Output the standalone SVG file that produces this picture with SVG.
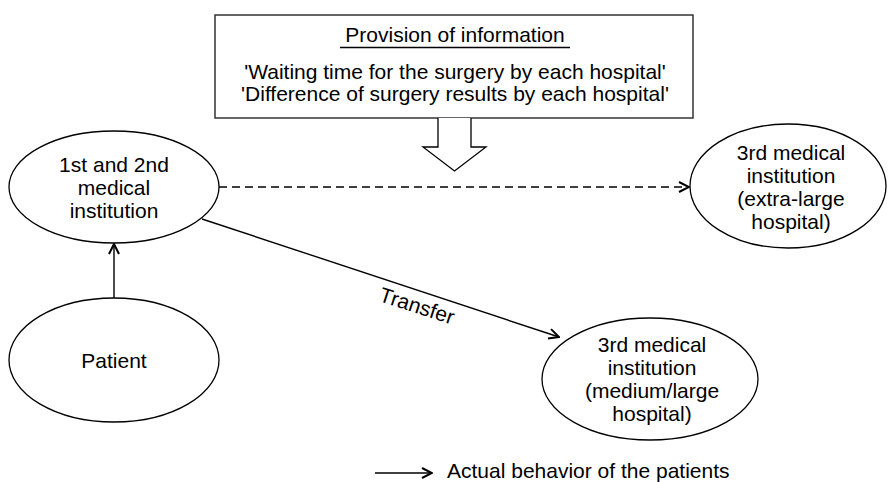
<svg xmlns="http://www.w3.org/2000/svg" width="889" height="482" viewBox="0 0 889 482">
<style>
text{font-family:"Liberation Sans",Arial,sans-serif;font-size:21px;fill:#000}
.c{text-anchor:middle}
.n{fill:#fff;stroke:#000;stroke-width:1.3}
.e{fill:none;stroke:#000;stroke-width:1.4}
</style>
<defs>
<marker id="ah" viewBox="0 0 12 12" refX="11" refY="6" markerWidth="12" markerHeight="12" markerUnits="userSpaceOnUse" orient="auto">
<path d="M1,1 L11,6 L1,11" fill="none" stroke="#000" stroke-width="2"/>
</marker>
</defs>
<rect width="889" height="482" fill="#fff"/>
<g id="info">
<rect x="215" y="15" width="478" height="103" fill="#fff" stroke="#333" stroke-width="1.5"/>
<text class="c" x="455" y="42">Provision of information</text>
<line x1="340" y1="47.5" x2="570" y2="47.5" stroke="#000" stroke-width="1.4"/>
<text class="c" x="455" y="79">'Waiting time for the surgery by each hospital'</text>
<text class="c" x="455" y="101">'Difference of surgery results by each hospital'</text>
<path class="n" d="M438,118 L438,147 L423,147 L454.5,171 L486,147 L471,147 L471,118"/>
</g>
<g id="n1">
<ellipse class="n" cx="114" cy="187" rx="105" ry="56"/>
<text class="c" x="114" y="171.5">1st and 2nd</text>
<text class="c" x="114" y="194.5">medical</text>
<text class="c" x="114" y="217.5">institution</text>
</g>
<g id="patient">
<ellipse class="n" cx="114" cy="360" rx="105" ry="62"/>
<text class="c" x="114" y="367.5">Patient</text>
</g>
<g id="n3xl">
<ellipse class="n" cx="788" cy="186" rx="98" ry="62"/>
<text class="c" x="791" y="159.5">3rd medical</text>
<text class="c" x="791" y="182.5">institution</text>
<text class="c" x="791" y="205.5">(extra-large</text>
<text class="c" x="791" y="228.5">hospital)</text>
</g>
<g id="n3ml">
<ellipse class="n" cx="650" cy="379" rx="108" ry="61"/>
<text class="c" x="652" y="352">3rd medical</text>
<text class="c" x="652" y="375">institution</text>
<text class="c" x="652" y="398">(medium/large</text>
<text class="c" x="652" y="421">hospital)</text>
</g>
<g id="connectors">
<line class="e" x1="114" y1="298" x2="114" y2="244" marker-end="url(#ah)"/>
<line class="e" x1="219" y1="187" x2="689" y2="187" stroke-dasharray="8,5" marker-end="url(#ah)"/>
<line class="e" x1="202" y1="219" x2="559" y2="337" marker-end="url(#ah)"/>
<text class="c" x="417" y="313" transform="rotate(18 417 306)">Transfer</text>
</g>
<g id="legend">
<line class="e" x1="375" y1="473" x2="432" y2="473" marker-end="url(#ah)"/>
<text x="447" y="478">Actual behavior of the patients</text>
</g>
</svg>
